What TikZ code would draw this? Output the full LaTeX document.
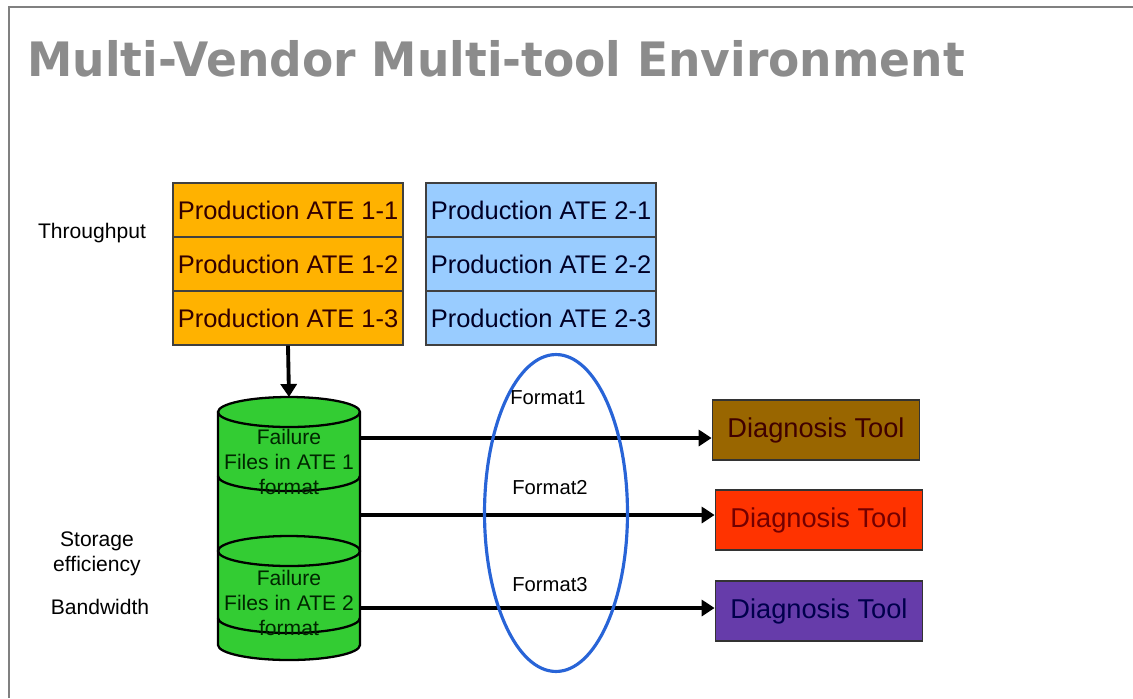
\documentclass[tikz,border=0pt]{standalone}
\usepackage{fontspec}
\setmainfont{Liberation Sans}
\newfontfamily\titlefont{DejaVu Sans}
\usetikzlibrary{arrows.meta}
\definecolor{ateorange}{RGB}{255,178,0}
\definecolor{ateblue}{RGB}{153,204,255}
\definecolor{diskgreen}{RGB}{51,204,51}
\definecolor{toolbrown}{RGB}{153,102,0}
\definecolor{toolred}{RGB}{255,51,0}
\definecolor{toolpurple}{RGB}{102,60,170}
\definecolor{ringblue}{RGB}{40,100,215}
\definecolor{titlegrey}{RGB}{140,140,140}
\begin{document}
\begin{tikzpicture}[x=0.02cm,y=-0.02cm,
  atebox/.style={draw=black!75,line width=1pt,minimum width=4.6cm,minimum height=1.07cm,inner sep=0pt,font=\fontsize{14.5}{17}\selectfont},
  toolbox/.style={draw=black!80,line width=1pt,minimum width=4.14cm,minimum height=1.2cm,inner sep=0pt,font=\fontsize{15.5}{19}\selectfont},
  flow/.style={line width=2.2pt,-{Triangle[length=0.26cm,width=0.32cm]}},
  lbl/.style={font=\fontsize{12}{14}\selectfont,align=center},
  disktext/.style={font=\fontsize{12}{14}\selectfont,align=center,text=black!85!green}]
\useasboundingbox (0,0) rectangle (1133,698);
\draw[gray,line width=1.2pt] (9,698) -- (9,7) -- (1133,7);

\node[anchor=base west,inner sep=0pt,text=titlegrey,font=\titlefont\bfseries\fontsize{27}{30}\selectfont] (title) at (27,76) {\scalebox{0.96}[1]{Multi-Vendor Multi-tool Environment}};

\node[lbl] (thr) at (92,233) {Throughput};
\node[lbl] (sto) at (97,554) {Storage\\efficiency};
\node[lbl] (bw) at (100,607) {Bandwidth};

\node[atebox,fill=ateorange,text=black!80!red] (o1) at (288,210) {Production ATE 1-1};
\node[atebox,fill=ateorange,text=black!80!red] (o2) at (288,264) {Production ATE 1-2};
\node[atebox,fill=ateorange,text=black!80!red] (o3) at (288,318) {Production ATE 1-3};
\node[atebox,fill=ateblue,text=black!85!blue] (b1) at (541,210) {Production ATE 2-1};
\node[atebox,fill=ateblue,text=black!85!blue] (b2) at (541,264) {Production ATE 2-2};
\node[atebox,fill=ateblue,text=black!85!blue] (b3) at (541,318) {Production ATE 2-3};

% storage
\filldraw[fill=diskgreen,draw=black,line width=1.3pt] (218,412) -- (218,645)
  arc[start angle=180,end angle=360,x radius=1.42cm,y radius=0.3cm] -- (360,412)
  arc[start angle=0,end angle=180,x radius=1.42cm,y radius=0.3cm] -- cycle;
\draw[line width=1.3pt] (218,412) arc[start angle=180,end angle=360,x radius=1.42cm,y radius=0.3cm];
\draw[line width=1.3pt] (218,476) arc[start angle=180,end angle=360,x radius=1.42cm,y radius=0.3cm];
\draw[line width=1.3pt] (289,551) ellipse[x radius=1.42cm,y radius=0.3cm];
\draw[line width=1.3pt] (218,618) arc[start angle=180,end angle=360,x radius=1.42cm,y radius=0.3cm];
\coordinate (cyltop) at (289,397);
\coordinate (c1) at (360,438);
\coordinate (c2) at (360,515);
\coordinate (c3) at (360,608);

\node[disktext] (f1) at (289,462) {Failure\\Files in ATE 1\\format};
\node[disktext] (f2) at (289,603) {Failure\\Files in ATE 2\\format};

\node[toolbox,fill=toolbrown,text=black!75!red] (d1) at (816,430) {Diagnosis Tool};
\node[toolbox,fill=toolred,text=black!55!red] (d2) at (819,520) {Diagnosis Tool};
\node[toolbox,fill=toolpurple,text=black!70!blue] (d3) at (819,611) {Diagnosis Tool};

\draw[flow] (o3.south) -- (cyltop);
\draw[flow] (c1) -- (c1 -| d1.west);
\draw[flow] (c2) -- (c2 -| d2.west);
\draw[flow] (c3) -- (c3 -| d3.west);

\draw[ringblue,line width=1.8pt] (556,513) ellipse[x radius=1.43cm,y radius=3.17cm];
\node[lbl,font=\fontsize{11.5}{14}\selectfont] (fmt1) at (548,398) {Format1};
\node[lbl,font=\fontsize{11.5}{14}\selectfont] (fmt2) at (550,488) {Format2};
\node[lbl,font=\fontsize{11.5}{14}\selectfont] (fmt3) at (550,585) {Format3};
\end{tikzpicture}
\end{document}
